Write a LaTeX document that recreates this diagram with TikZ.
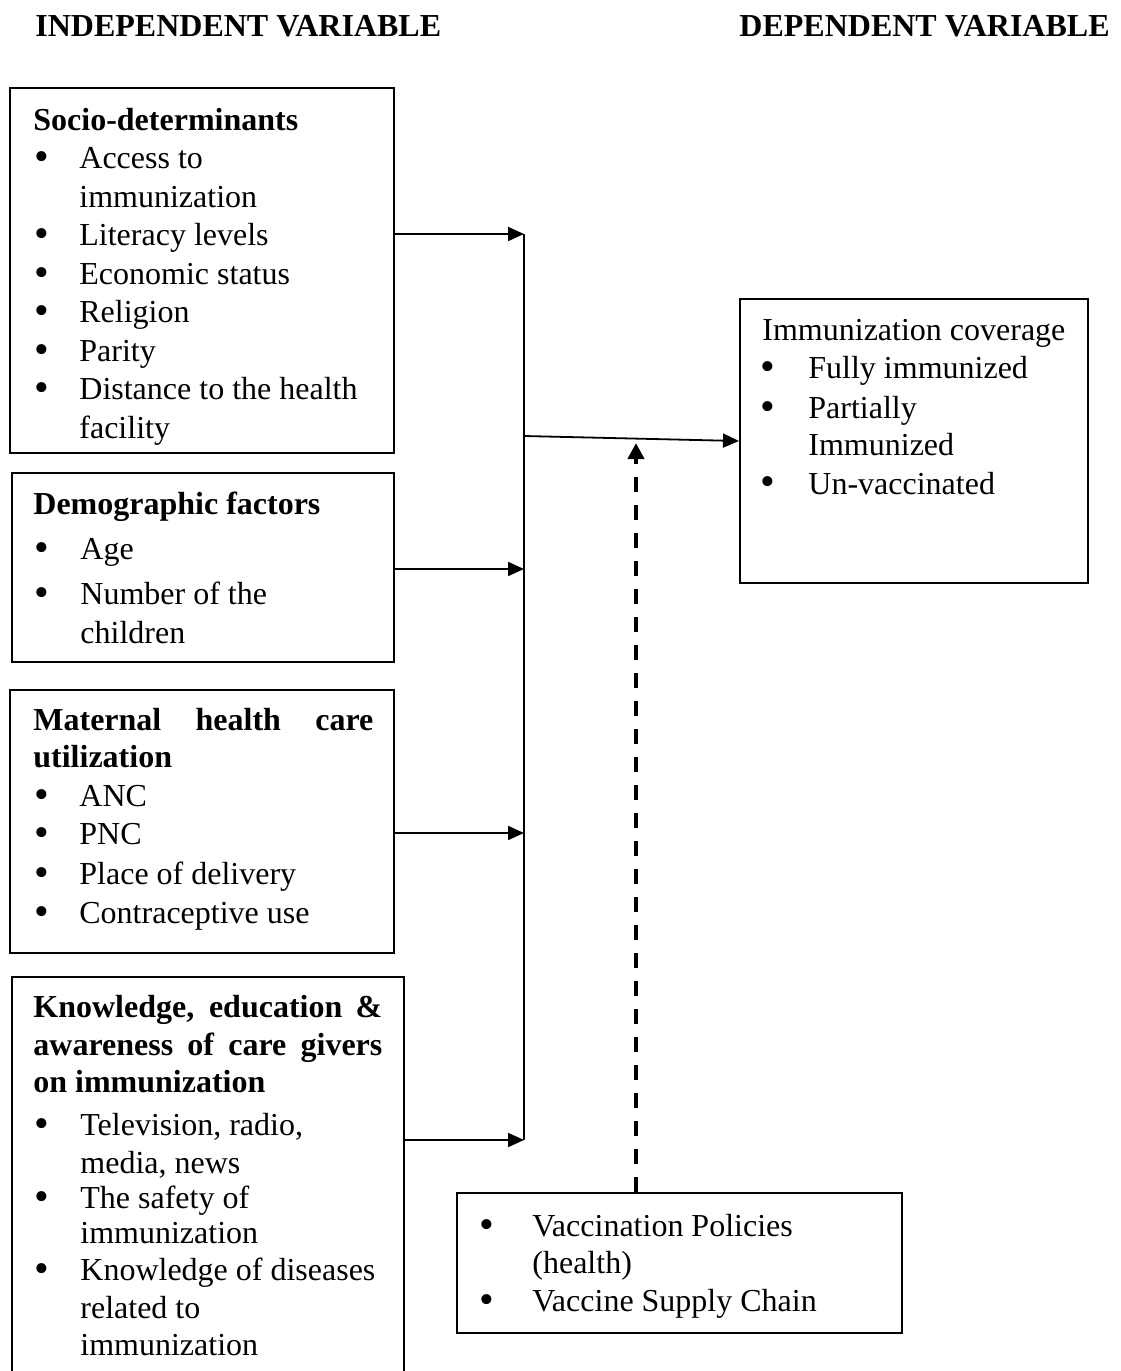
\documentclass[tikz,border=0pt]{standalone}
\usepackage{fontspec}
\setmainfont{Liberation Serif}
\usetikzlibrary{arrows.meta,fit}
\begin{document}
\begin{tikzpicture}[x=0.5pt,y=-0.5pt,
  box/.style={draw, line width=1pt, inner sep=0pt},
  txt/.style={anchor=base west, inner sep=0pt, font=\fontsize{16}{19}\selectfont},
  bftxt/.style={anchor=base west, inner sep=0pt, font=\fontsize{16}{19}\selectfont\bfseries},
  bul/.style={anchor=base, inner sep=0pt, yshift=-1pt, font=\fontsize{21}{21}\selectfont},
  arr/.style={line width=0.9pt, -{Triangle[length=8pt,width=7pt]}},
  dasharr/.style={line width=2pt, dash pattern=on 7.75pt off 6.25pt, -{Triangle[length=8pt,width=8pt]}}]
\fill[white] (0,0) rectangle (1120,1371);
\useasboundingbox (0,0) rectangle (1120,1371);
\clip (0,0) rectangle (1120,1371);

% titles
\node[bftxt] (tind) at (35,36) {INDEPENDENT VARIABLE};
\node[bftxt, anchor=base east] (tdep) at (1110,36) {DEPENDENT VARIABLE};

% boxes
\node[box, fit={(10,88)(394,453)}] (b1) {};
\node[box, fit={(12,473)(394,662)}] (b2) {};
\node[box, fit={(10,690)(394,953)}] (b3) {};
\node[box, fit={(12,977)(404,1420)}] (b4) {};
\node[box, fit={(740,299)(1088,583)}] (out) {};
\node[box, fit={(457,1193)(902,1333)}] (pol) {};

% box 1 text
\node[bftxt] (b1t) at (33,130) {Socio-determinants};
\foreach \y/\n in {168.5/a,245.5/b,284/c,322.5/d,361/e,399.5/f}
  \node[bul] (b1b\n) at (42,\y) {•};
\node[txt] (b1l1) at (79,168.5) {Access to};
\node[txt] (b1l2) at (79,207) {immunization};
\node[txt] (b1l3) at (79,245.5) {Literacy levels};
\node[txt] (b1l4) at (79,284) {Economic status};
\node[txt] (b1l5) at (79,322.5) {Religion};
\node[txt] (b1l6) at (79,361) {Parity};
\node[txt] (b1l7) at (79,399.5) {Distance to the health};
\node[txt] (b1l8) at (79,438) {facility};

% box 2 text
\node[bftxt] (b2t) at (33,514) {Demographic factors};
\foreach \y/\n in {559/a,604/b}
  \node[bul] (b2b\n) at (42,\y) {•};
\node[txt] (b2l1) at (80,559) {Age};
\node[txt] (b2l2) at (80,604) {Number of the};
\node[txt] (b2l3) at (80,643) {children};

% box 3 text
\node[bftxt] (b3t) at (33,730) {\makebox[170pt][s]{Maternal health care}};
\node[bftxt] (b3t2) at (33,767) {utilization};
\foreach \y/\n in {806/a,844/b,884/c,923/d}
  \node[bul] (b3b\n) at (42,\y) {•};
\node[txt] (b3l1) at (79,806) {ANC};
\node[txt] (b3l2) at (79,844) {PNC};
\node[txt] (b3l3) at (79,884) {Place of delivery};
\node[txt] (b3l4) at (79,923) {Contraceptive use};

% box 4 text
\node[bftxt] (b4t1) at (33,1017) {\makebox[174.5pt][s]{Knowledge, education \&}};
\node[bftxt] (b4t2) at (33,1055) {\makebox[174.5pt][s]{awareness of care givers}};
\node[bftxt] (b4t3) at (33,1092) {on immunization};
\foreach \y/\n in {1135/a,1208/b,1280/c}
  \node[bul] (b4b\n) at (42,\y) {•};
\node[txt] (b4l1) at (80,1135) {Television, radio,};
\node[txt] (b4l2) at (80,1173) {media, news};
\node[txt] (b4l3) at (80,1208) {The safety of};
\node[txt] (b4l4) at (80,1243) {immunization};
\node[txt] (b4l5) at (80,1280) {Knowledge of diseases};
\node[txt] (b4l6) at (80,1318) {related to};
\node[txt] (b4l7) at (80,1355) {immunization};

% outcome box text
\node[txt] (ot) at (762,340) {Immunization coverage};
\foreach \y/\n in {378/a,418/b,493/c}
  \node[bul] (obul\n) at (768,\y) {•};
\node[txt] (ol1) at (808,378) {Fully immunized};
\node[txt] (ol2) at (808,418) {Partially};
\node[txt] (ol3) at (808,455) {Immunized};
\node[txt] (ol4) at (808,494) {Un-vaccinated};

% policy box text
\foreach \y/\n in {1236/a,1311/b}
  \node[bul] (pbul\n) at (487,\y) {•};
\node[txt] (pl1) at (532,1236) {Vaccination Policies};
\node[txt] (pl2) at (532,1273) {(health)};
\node[txt] (pl3) at (532,1311) {Vaccine Supply Chain};

% connectors
\coordinate (j1) at (524,234);
\coordinate (j2) at (524,569);
\coordinate (j3) at (524,833);
\coordinate (j4) at (524,1140);
\coordinate (jm) at (524,436);
\coordinate (tip) at (636,443);
\draw[line width=1pt] (j1) -- (j4);
\draw[arr] (b1.east |- j1) -- (j1);
\draw[arr] (b2.east |- j2) -- (j2);
\draw[arr] (b3.east |- j3) -- (j3);
\draw[arr] (b4.east |- j4) -- (j4);
\draw[arr] (jm) -- (out.west);
\draw[dasharr] (pol.north -| tip) -- (tip);
\end{tikzpicture}
\end{document}
